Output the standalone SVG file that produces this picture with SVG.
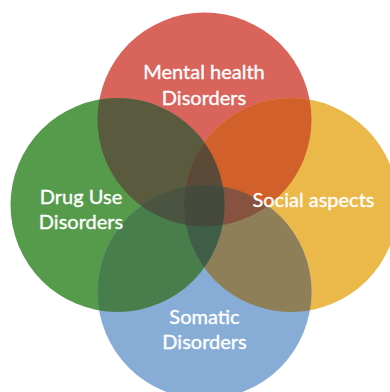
<svg xmlns="http://www.w3.org/2000/svg" width="390" height="392" viewBox="0 0 390 392">
<style>
.lbl{font-family:Lato,"Open Sans","Liberation Sans",sans-serif;font-size:20px;fill:#ffffff;stroke:#ffffff;stroke-width:0.35;text-anchor:middle}
</style>
<defs>
<clipPath id="cR"><circle cx="204.5" cy="119.5" r="107"/></clipPath>
<clipPath id="cG"><circle cx="117.5" cy="205" r="107"/></clipPath>
<clipPath id="cO"><circle cx="291" cy="205" r="107"/></clipPath>
<clipPath id="cB"><circle cx="204.5" cy="292" r="107"/></clipPath>
</defs>
<rect width="390" height="392" fill="#ffffff"/>
<g id="circles">
<circle id="c-mental" cx="204.5" cy="119.5" r="107" fill="#D9645C"/>
<circle id="c-drug" cx="117.5" cy="205" r="107" fill="#559B4B"/>
<circle id="c-social" cx="291" cy="205" r="107" fill="#EBB84A"/>
<circle id="c-somatic" cx="204.5" cy="292" r="107" fill="#87ADD6"/>
</g>
<g id="overlaps">
<circle cx="117.5" cy="205" r="107" fill="#5A5A3E" clip-path="url(#cR)"/>
<circle cx="291" cy="205" r="107" fill="#D2602A" clip-path="url(#cR)"/>
<circle cx="117.5" cy="205" r="107" fill="#487E4C" clip-path="url(#cB)"/>
<circle cx="291" cy="205" r="107" fill="#8E7F58" clip-path="url(#cB)"/>
<g clip-path="url(#cR)"><circle cx="117.5" cy="205" r="107" fill="#5C4A38" clip-path="url(#cO)"/></g>
<g clip-path="url(#cR)"><circle cx="117.5" cy="205" r="107" fill="#4A5440" clip-path="url(#cB)"/></g>
<g clip-path="url(#cR)"><circle cx="291" cy="205" r="107" fill="#87523F" clip-path="url(#cB)"/></g>
<g clip-path="url(#cB)"><circle cx="117.5" cy="205" r="107" fill="#3F5E47" clip-path="url(#cO)"/></g>
<g clip-path="url(#cR)"><g clip-path="url(#cO)"><circle cx="117.5" cy="205" r="107" fill="#464A3D" clip-path="url(#cB)"/></g></g>
</g>
<g id="node-mental"><text class="lbl" x="204" y="79">Mental health</text><text class="lbl" x="204" y="105">Disorders</text></g>
<g id="node-drug"><text class="lbl" x="81" y="204">Drug Use</text><text class="lbl" x="81" y="229">Disorders</text></g>
<g id="node-social"><text class="lbl" x="313.5" y="207">Social aspects</text></g>
<g id="node-somatic"><text class="lbl" x="204.5" y="324">Somatic</text><text class="lbl" x="204.5" y="349">Disorders</text></g>
</svg>
